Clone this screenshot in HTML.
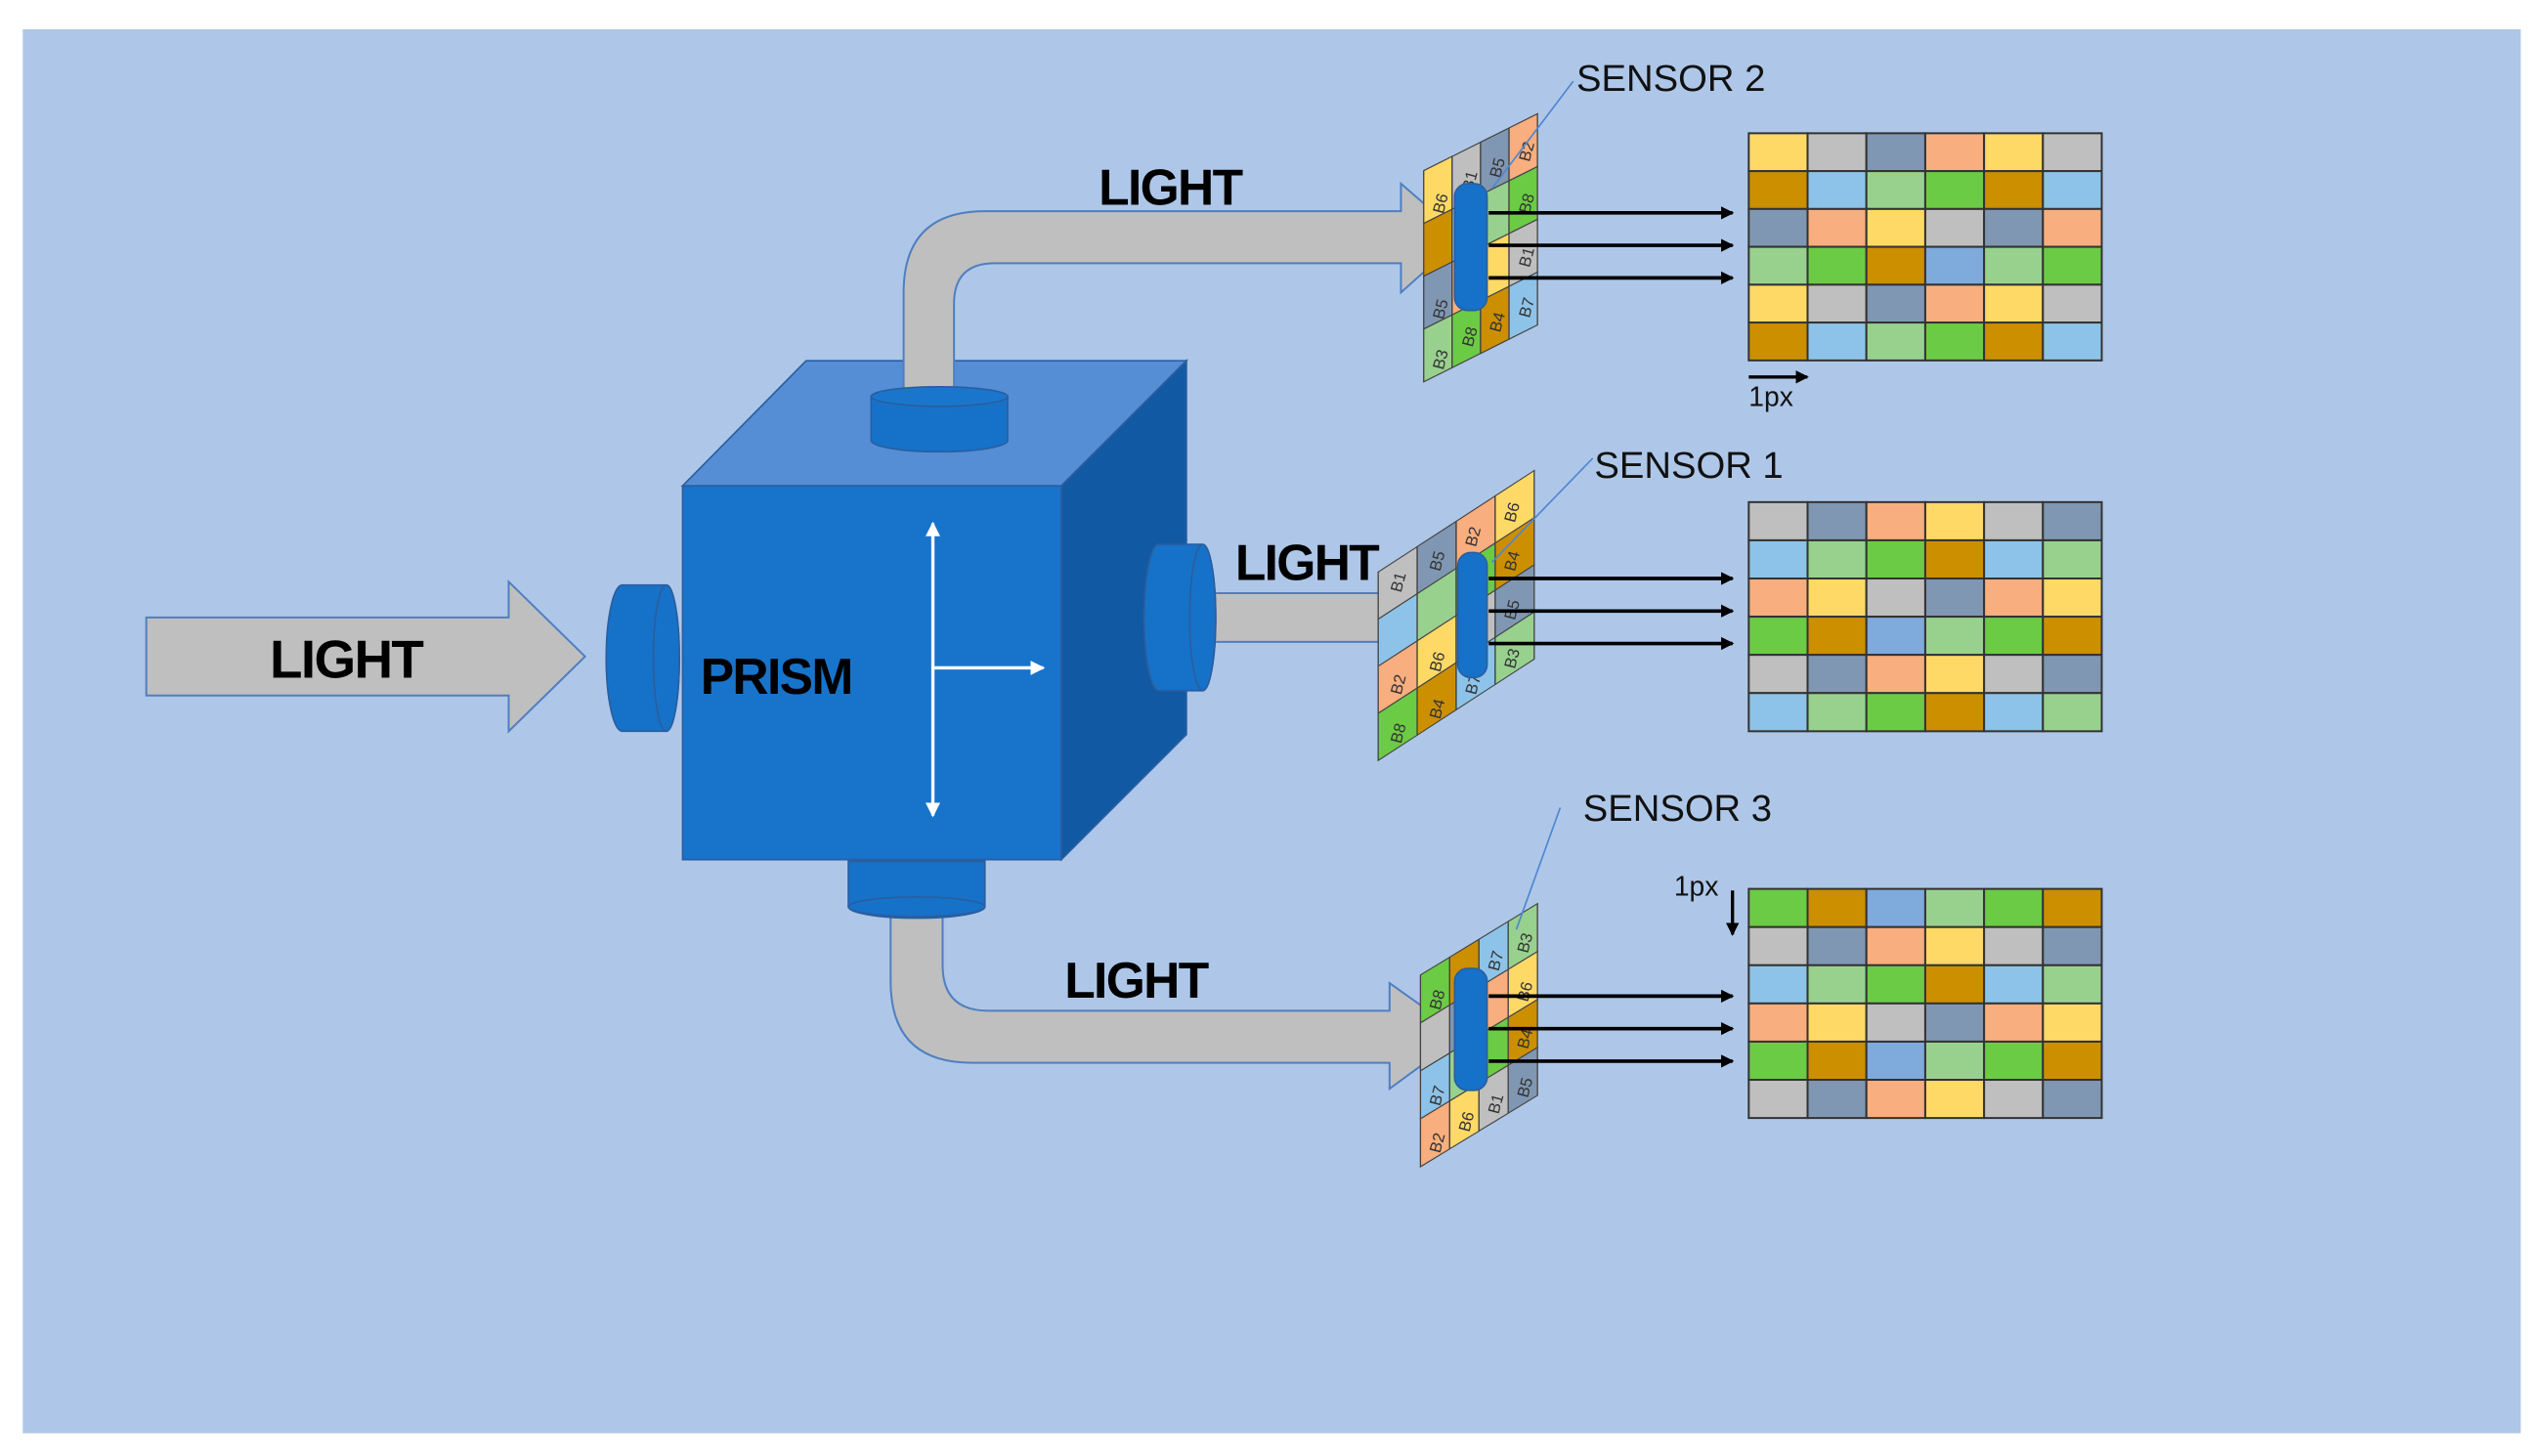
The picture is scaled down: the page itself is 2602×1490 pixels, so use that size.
<!DOCTYPE html>
<html><head><meta charset="utf-8"><style>
html,body{margin:0;padding:0;background:#fff;}
svg{display:block;}
text{font-family:"Liberation Sans",sans-serif;}
.b{font-weight:bold;fill:#000;letter-spacing:-1px;}
.s{font-size:23px;fill:#111;}
.t{font-size:10px;fill:#333;}
</style></head><body>
<svg width="2602" height="1490" viewBox="0 0 1564.7 896" preserveAspectRatio="none" xmlns="http://www.w3.org/2000/svg">
<defs>
<marker id="ah" markerWidth="8" markerHeight="8" refX="7" refY="4" orient="auto" markerUnits="userSpaceOnUse"><path d="M0,0 L8,4 L0,8 Z" fill="#000"/></marker>
<marker id="wh" markerWidth="9" markerHeight="9" refX="8" refY="4.5" orient="auto" markerUnits="userSpaceOnUse"><path d="M0,0 L9,4.5 L0,9 Z" fill="#fff"/></marker>
</defs>
<rect x="14" y="18" width="1537" height="864" fill="#AEC7E8"/>

<!-- input arrow -->
<path d="M90,380 L313,380 L313,358 L360,404 L313,450 L313,428 L90,428 Z" fill="#BFBFBF" stroke="#4F7FC0" stroke-width="1.2"/>
<text x="166" y="417" class="b" font-size="33">LIGHT</text>

<!-- cube -->
<polygon points="420,299 496,222 730,222 653,299" fill="#558ED5" stroke="#2A5EA0" stroke-width="1"/>
<polygon points="653,299 730,222 730,452 653,529" fill="#115AA3" stroke="#2A5EA0" stroke-width="1"/>
<rect x="420" y="299" width="233" height="230" fill="#1874CA" stroke="#2A5EA0" stroke-width="1"/>
<text x="431" y="427" class="b" font-size="31">PRISM</text>
<line x1="574" y1="411" x2="574" y2="322" stroke="#fff" stroke-width="2" marker-end="url(#wh)"/>
<line x1="574" y1="411" x2="574" y2="502" stroke="#fff" stroke-width="2" marker-end="url(#wh)"/>
<line x1="574" y1="411" x2="642" y2="411" stroke="#fff" stroke-width="2" marker-end="url(#wh)"/>

<!-- top curved arrow -->
<path d="M556,245 L556,180 Q556,130 606,130 L862,130 L862,113 L900,146 L862,180 L862,162 L612,162 Q587,162 587,187 L587,245 Z" fill="#BFBFBF" stroke="#4F7FC0" stroke-width="1.2"/>
<text x="676" y="126" class="b" font-size="31">LIGHT</text>

<!-- right arrow -->
<path d="M735,365 L855,365 L855,350 L893,380 L855,412 L855,395 L735,395 Z" fill="#BFBFBF" stroke="#4F7FC0" stroke-width="1.2"/>
<text x="760" y="357" class="b" font-size="31">LIGHT</text>

<!-- bottom curved arrow -->
<path d="M548,552 L548,604 Q548,654 598,654 L855,654 L855,670 L900,637 L855,605 L855,622 L608,622 Q580,622 580,594 L580,552 Z" fill="#BFBFBF" stroke="#4F7FC0" stroke-width="1.2"/>
<text x="655" y="614" class="b" font-size="31">LIGHT</text>

<!-- top lens -->
<path d="M536,244 L536,271 A42,7 0 0 0 620,271 L620,244 Z" fill="#1672C8" stroke="#2A5EA0"/>
<ellipse cx="578" cy="244" rx="42" ry="6" fill="#1A76CC" stroke="#2A5EA0"/>
<!-- bottom lens -->
<path d="M522,530 L522,558 A42,7 0 0 0 606,558 L606,530 Z" fill="#1672C8" stroke="#2A5EA0"/>
<ellipse cx="564" cy="558" rx="42" ry="6" fill="#1672C8" stroke="#2A5EA0"/>
<!-- left lens -->
<path d="M383,360 L410,360 A8,45 0 0 1 410,450 L383,450 A10,45 0 0 1 383,360 Z" fill="#1672C8" stroke="#2A5EA0"/>
<ellipse cx="410" cy="405" rx="8" ry="45" fill="#1672C8" stroke="#2A5EA0"/>
<!-- right lens -->
<path d="M713,335 L740,335 A8,45 0 0 1 740,425 L713,425 A9,45 0 0 1 713,335 Z" fill="#1672C8" stroke="#2A5EA0"/>
<ellipse cx="740" cy="380" rx="8" ry="45" fill="#1672C8" stroke="#2A5EA0"/>

<!-- SENSOR 2 tilted -->
<g transform="matrix(1,-0.5,0,1,876,105)" stroke="#444" stroke-width="0.8">
<rect x="0" y="0" width="17.5" height="32.5" fill="#FFD966"/><rect x="0" y="32.5" width="17.5" height="32.5" fill="#CC8F00"/><rect x="0" y="65" width="17.5" height="32.5" fill="#8097B3"/><rect x="0" y="97.5" width="17.5" height="32.5" fill="#98D18E"/>
<rect x="17.5" y="0" width="17.5" height="32.5" fill="#BFBFBF"/><rect x="17.5" y="32.5" width="17.5" height="32.5" fill="#8DC3E8"/><rect x="17.5" y="65" width="17.5" height="32.5" fill="#F8AE7E"/><rect x="17.5" y="97.5" width="17.5" height="32.5" fill="#6CCB44"/>
<rect x="35" y="0" width="17.5" height="32.5" fill="#8097B3"/><rect x="35" y="32.5" width="17.5" height="32.5" fill="#98D18E"/><rect x="35" y="65" width="17.5" height="32.5" fill="#FFD966"/><rect x="35" y="97.5" width="17.5" height="32.5" fill="#CC8F00"/>
<rect x="52.5" y="0" width="17.5" height="32.5" fill="#F8AE7E"/><rect x="52.5" y="32.5" width="17.5" height="32.5" fill="#6CCB44"/><rect x="52.5" y="65" width="17.5" height="32.5" fill="#BFBFBF"/><rect x="52.5" y="97.5" width="17.5" height="32.5" fill="#8DC3E8"/>
</g>
<g class="t">
<text transform="translate(888,132) rotate(-75)">B6</text><text transform="translate(888,197) rotate(-75)">B5</text><text transform="translate(888,228) rotate(-75)">B3</text>
<text transform="translate(906,118) rotate(-75)">B1</text><text transform="translate(906,214) rotate(-75)">B8</text>
<text transform="translate(923,110) rotate(-75)">B5</text><text transform="translate(923,205) rotate(-75)">B4</text>
<text transform="translate(941,100) rotate(-75)">B2</text><text transform="translate(941,132) rotate(-75)">B8</text><text transform="translate(941,165) rotate(-75)">B1</text><text transform="translate(941,196) rotate(-75)">B7</text>
</g>
<rect x="895" y="113" width="20" height="78" rx="8" fill="#1672C8" stroke="#2A5EA0"/>
<line x1="918" y1="116" x2="968" y2="50" stroke="#4F86D0" stroke-width="1"/>
<text x="970" y="56" class="s">SENSOR 2</text>
<g stroke="#000" stroke-width="2.2">
<line x1="916" y1="131" x2="1066" y2="131" marker-end="url(#ah)"/>
<line x1="916" y1="151" x2="1066" y2="151" marker-end="url(#ah)"/>
<line x1="916" y1="171" x2="1066" y2="171" marker-end="url(#ah)"/>
</g>

<!-- SENSOR 1 tilted -->
<g transform="matrix(1,-0.65,0,1,848,352)" stroke="#444" stroke-width="0.8">
<rect x="0" y="0" width="24" height="29" fill="#BFBFBF"/><rect x="0" y="29" width="24" height="29" fill="#8DC3E8"/><rect x="0" y="58" width="24" height="29" fill="#F8AE7E"/><rect x="0" y="87" width="24" height="29" fill="#6CCB44"/>
<rect x="24" y="0" width="24" height="29" fill="#8097B3"/><rect x="24" y="29" width="24" height="29" fill="#98D18E"/><rect x="24" y="58" width="24" height="29" fill="#FFD966"/><rect x="24" y="87" width="24" height="29" fill="#CC8F00"/>
<rect x="48" y="0" width="24" height="29" fill="#F8AE7E"/><rect x="48" y="29" width="24" height="29" fill="#6CCB44"/><rect x="48" y="58" width="24" height="29" fill="#BFBFBF"/><rect x="48" y="87" width="24" height="29" fill="#8DC3E8"/>
<rect x="72" y="0" width="24" height="29" fill="#FFD966"/><rect x="72" y="29" width="24" height="29" fill="#CC8F00"/><rect x="72" y="58" width="24" height="29" fill="#8097B3"/><rect x="72" y="87" width="24" height="29" fill="#98D18E"/>
</g>
<g class="t">
<text transform="translate(862,365) rotate(-75)">B1</text><text transform="translate(862,428) rotate(-75)">B2</text><text transform="translate(862,458) rotate(-75)">B8</text>
<text transform="translate(886,352) rotate(-75)">B5</text><text transform="translate(886,414) rotate(-75)">B6</text><text transform="translate(886,443) rotate(-75)">B4</text>
<text transform="translate(908,337) rotate(-75)">B2</text><text transform="translate(908,428) rotate(-75)">B7</text>
<text transform="translate(932,322) rotate(-75)">B6</text><text transform="translate(932,352) rotate(-75)">B4</text><text transform="translate(932,382) rotate(-75)">B5</text><text transform="translate(932,412) rotate(-75)">B3</text>
</g>
<rect x="897" y="340" width="18" height="77" rx="8" fill="#1672C8" stroke="#2A5EA0"/>
<line x1="918" y1="346" x2="980" y2="282" stroke="#4F86D0" stroke-width="1"/>
<text x="981" y="294" class="s">SENSOR 1</text>
<g stroke="#000" stroke-width="2.2">
<line x1="916" y1="356" x2="1066" y2="356" marker-end="url(#ah)"/>
<line x1="916" y1="376" x2="1066" y2="376" marker-end="url(#ah)"/>
<line x1="916" y1="396" x2="1066" y2="396" marker-end="url(#ah)"/>
</g>

<!-- SENSOR 3 tilted -->
<g transform="matrix(1,-0.61,0,1,874,600)" stroke="#444" stroke-width="0.8">
<rect x="0" y="0" width="18" height="29.5" fill="#6CCB44"/><rect x="0" y="29.5" width="18" height="29.5" fill="#BFBFBF"/><rect x="0" y="59" width="18" height="29.5" fill="#8DC3E8"/><rect x="0" y="88.5" width="18" height="29.5" fill="#F8AE7E"/>
<rect x="18" y="0" width="18" height="29.5" fill="#CC8F00"/><rect x="18" y="29.5" width="18" height="29.5" fill="#8097B3"/><rect x="18" y="59" width="18" height="29.5" fill="#98D18E"/><rect x="18" y="88.5" width="18" height="29.5" fill="#FFD966"/>
<rect x="36" y="0" width="18" height="29.5" fill="#8DC3E8"/><rect x="36" y="29.5" width="18" height="29.5" fill="#F8AE7E"/><rect x="36" y="59" width="18" height="29.5" fill="#6CCB44"/><rect x="36" y="88.5" width="18" height="29.5" fill="#BFBFBF"/>
<rect x="54" y="0" width="18" height="29.5" fill="#98D18E"/><rect x="54" y="29.5" width="18" height="29.5" fill="#FFD966"/><rect x="54" y="59" width="18" height="29.5" fill="#CC8F00"/><rect x="54" y="88.5" width="18" height="29.5" fill="#8097B3"/>
</g>
<g class="t">
<text transform="translate(886,622) rotate(-75)">B8</text><text transform="translate(886,681) rotate(-75)">B7</text><text transform="translate(886,710) rotate(-75)">B2</text>
<text transform="translate(904,697) rotate(-75)">B6</text>
<text transform="translate(922,598) rotate(-75)">B7</text><text transform="translate(922,686) rotate(-75)">B1</text>
<text transform="translate(940,587) rotate(-75)">B3</text><text transform="translate(940,617) rotate(-75)">B6</text><text transform="translate(940,646) rotate(-75)">B4</text><text transform="translate(940,676) rotate(-75)">B5</text>
</g>
<rect x="895" y="596" width="20" height="75" rx="8" fill="#1672C8" stroke="#2A5EA0"/>
<line x1="933" y1="572" x2="960" y2="497" stroke="#4F86D0" stroke-width="1"/>
<text x="974" y="505" class="s">SENSOR 3</text>
<g stroke="#000" stroke-width="2.2">
<line x1="916" y1="613" x2="1066" y2="613" marker-end="url(#ah)"/>
<line x1="916" y1="633" x2="1066" y2="633" marker-end="url(#ah)"/>
<line x1="916" y1="653" x2="1066" y2="653" marker-end="url(#ah)"/>
</g>

<!-- GRID 2 -->
<g stroke="#333" stroke-width="1.2">
<rect x="1076" y="82" width="36.2" height="23.3" fill="#FFD966"/><rect x="1112.2" y="82" width="36.2" height="23.3" fill="#BFBFBF"/><rect x="1148.4" y="82" width="36.2" height="23.3" fill="#8097B3"/><rect x="1184.6" y="82" width="36.2" height="23.3" fill="#F8AE7E"/><rect x="1220.8" y="82" width="36.2" height="23.3" fill="#FFD966"/><rect x="1257" y="82" width="36.2" height="23.3" fill="#BFBFBF"/>
<rect x="1076" y="105.3" width="36.2" height="23.3" fill="#CC8F00"/><rect x="1112.2" y="105.3" width="36.2" height="23.3" fill="#8DC3E8"/><rect x="1148.4" y="105.3" width="36.2" height="23.3" fill="#98D18E"/><rect x="1184.6" y="105.3" width="36.2" height="23.3" fill="#6CCB44"/><rect x="1220.8" y="105.3" width="36.2" height="23.3" fill="#CC8F00"/><rect x="1257" y="105.3" width="36.2" height="23.3" fill="#8DC3E8"/>
<rect x="1076" y="128.6" width="36.2" height="23.3" fill="#8097B3"/><rect x="1112.2" y="128.6" width="36.2" height="23.3" fill="#F8AE7E"/><rect x="1148.4" y="128.6" width="36.2" height="23.3" fill="#FFD966"/><rect x="1184.6" y="128.6" width="36.2" height="23.3" fill="#BFBFBF"/><rect x="1220.8" y="128.6" width="36.2" height="23.3" fill="#8097B3"/><rect x="1257" y="128.6" width="36.2" height="23.3" fill="#F8AE7E"/>
<rect x="1076" y="151.9" width="36.2" height="23.3" fill="#98D18E"/><rect x="1112.2" y="151.9" width="36.2" height="23.3" fill="#6CCB44"/><rect x="1148.4" y="151.9" width="36.2" height="23.3" fill="#CC8F00"/><rect x="1184.6" y="151.9" width="36.2" height="23.3" fill="#7FAADC"/><rect x="1220.8" y="151.9" width="36.2" height="23.3" fill="#98D18E"/><rect x="1257" y="151.9" width="36.2" height="23.3" fill="#6CCB44"/>
<rect x="1076" y="175.2" width="36.2" height="23.3" fill="#FFD966"/><rect x="1112.2" y="175.2" width="36.2" height="23.3" fill="#BFBFBF"/><rect x="1148.4" y="175.2" width="36.2" height="23.3" fill="#8097B3"/><rect x="1184.6" y="175.2" width="36.2" height="23.3" fill="#F8AE7E"/><rect x="1220.8" y="175.2" width="36.2" height="23.3" fill="#FFD966"/><rect x="1257" y="175.2" width="36.2" height="23.3" fill="#BFBFBF"/>
<rect x="1076" y="198.5" width="36.2" height="23.3" fill="#CC8F00"/><rect x="1112.2" y="198.5" width="36.2" height="23.3" fill="#8DC3E8"/><rect x="1148.4" y="198.5" width="36.2" height="23.3" fill="#98D18E"/><rect x="1184.6" y="198.5" width="36.2" height="23.3" fill="#6CCB44"/><rect x="1220.8" y="198.5" width="36.2" height="23.3" fill="#CC8F00"/><rect x="1257" y="198.5" width="36.2" height="23.3" fill="#8DC3E8"/>
</g>
<line x1="1076" y1="232" x2="1112" y2="232" stroke="#000" stroke-width="2" marker-end="url(#ah)"/>
<text x="1076" y="250" font-size="17" fill="#111">1px</text>

<!-- GRID 1 -->
<g stroke="#333" stroke-width="1.2">
<rect x="1076" y="309" width="36.2" height="23.5" fill="#BFBFBF"/><rect x="1112.2" y="309" width="36.2" height="23.5" fill="#8097B3"/><rect x="1148.4" y="309" width="36.2" height="23.5" fill="#F8AE7E"/><rect x="1184.6" y="309" width="36.2" height="23.5" fill="#FFD966"/><rect x="1220.8" y="309" width="36.2" height="23.5" fill="#BFBFBF"/><rect x="1257" y="309" width="36.2" height="23.5" fill="#8097B3"/>
<rect x="1076" y="332.5" width="36.2" height="23.5" fill="#8DC3E8"/><rect x="1112.2" y="332.5" width="36.2" height="23.5" fill="#98D18E"/><rect x="1148.4" y="332.5" width="36.2" height="23.5" fill="#6CCB44"/><rect x="1184.6" y="332.5" width="36.2" height="23.5" fill="#CC8F00"/><rect x="1220.8" y="332.5" width="36.2" height="23.5" fill="#8DC3E8"/><rect x="1257" y="332.5" width="36.2" height="23.5" fill="#98D18E"/>
<rect x="1076" y="356" width="36.2" height="23.5" fill="#F8AE7E"/><rect x="1112.2" y="356" width="36.2" height="23.5" fill="#FFD966"/><rect x="1148.4" y="356" width="36.2" height="23.5" fill="#BFBFBF"/><rect x="1184.6" y="356" width="36.2" height="23.5" fill="#8097B3"/><rect x="1220.8" y="356" width="36.2" height="23.5" fill="#F8AE7E"/><rect x="1257" y="356" width="36.2" height="23.5" fill="#FFD966"/>
<rect x="1076" y="379.5" width="36.2" height="23.5" fill="#6CCB44"/><rect x="1112.2" y="379.5" width="36.2" height="23.5" fill="#CC8F00"/><rect x="1148.4" y="379.5" width="36.2" height="23.5" fill="#7FAADC"/><rect x="1184.6" y="379.5" width="36.2" height="23.5" fill="#98D18E"/><rect x="1220.8" y="379.5" width="36.2" height="23.5" fill="#6CCB44"/><rect x="1257" y="379.5" width="36.2" height="23.5" fill="#CC8F00"/>
<rect x="1076" y="403" width="36.2" height="23.5" fill="#BFBFBF"/><rect x="1112.2" y="403" width="36.2" height="23.5" fill="#8097B3"/><rect x="1148.4" y="403" width="36.2" height="23.5" fill="#F8AE7E"/><rect x="1184.6" y="403" width="36.2" height="23.5" fill="#FFD966"/><rect x="1220.8" y="403" width="36.2" height="23.5" fill="#BFBFBF"/><rect x="1257" y="403" width="36.2" height="23.5" fill="#8097B3"/>
<rect x="1076" y="426.5" width="36.2" height="23.5" fill="#8DC3E8"/><rect x="1112.2" y="426.5" width="36.2" height="23.5" fill="#98D18E"/><rect x="1148.4" y="426.5" width="36.2" height="23.5" fill="#6CCB44"/><rect x="1184.6" y="426.5" width="36.2" height="23.5" fill="#CC8F00"/><rect x="1220.8" y="426.5" width="36.2" height="23.5" fill="#8DC3E8"/><rect x="1257" y="426.5" width="36.2" height="23.5" fill="#98D18E"/>
</g>

<!-- GRID 3 -->
<g stroke="#333" stroke-width="1.2">
<rect x="1076" y="547" width="36.2" height="23.5" fill="#6CCB44"/><rect x="1112.2" y="547" width="36.2" height="23.5" fill="#CC8F00"/><rect x="1148.4" y="547" width="36.2" height="23.5" fill="#7FAADC"/><rect x="1184.6" y="547" width="36.2" height="23.5" fill="#98D18E"/><rect x="1220.8" y="547" width="36.2" height="23.5" fill="#6CCB44"/><rect x="1257" y="547" width="36.2" height="23.5" fill="#CC8F00"/>
<rect x="1076" y="570.5" width="36.2" height="23.5" fill="#BFBFBF"/><rect x="1112.2" y="570.5" width="36.2" height="23.5" fill="#8097B3"/><rect x="1148.4" y="570.5" width="36.2" height="23.5" fill="#F8AE7E"/><rect x="1184.6" y="570.5" width="36.2" height="23.5" fill="#FFD966"/><rect x="1220.8" y="570.5" width="36.2" height="23.5" fill="#BFBFBF"/><rect x="1257" y="570.5" width="36.2" height="23.5" fill="#8097B3"/>
<rect x="1076" y="594" width="36.2" height="23.5" fill="#8DC3E8"/><rect x="1112.2" y="594" width="36.2" height="23.5" fill="#98D18E"/><rect x="1148.4" y="594" width="36.2" height="23.5" fill="#6CCB44"/><rect x="1184.6" y="594" width="36.2" height="23.5" fill="#CC8F00"/><rect x="1220.8" y="594" width="36.2" height="23.5" fill="#8DC3E8"/><rect x="1257" y="594" width="36.2" height="23.5" fill="#98D18E"/>
<rect x="1076" y="617.5" width="36.2" height="23.5" fill="#F8AE7E"/><rect x="1112.2" y="617.5" width="36.2" height="23.5" fill="#FFD966"/><rect x="1148.4" y="617.5" width="36.2" height="23.5" fill="#BFBFBF"/><rect x="1184.6" y="617.5" width="36.2" height="23.5" fill="#8097B3"/><rect x="1220.8" y="617.5" width="36.2" height="23.5" fill="#F8AE7E"/><rect x="1257" y="617.5" width="36.2" height="23.5" fill="#FFD966"/>
<rect x="1076" y="641" width="36.2" height="23.5" fill="#6CCB44"/><rect x="1112.2" y="641" width="36.2" height="23.5" fill="#CC8F00"/><rect x="1148.4" y="641" width="36.2" height="23.5" fill="#7FAADC"/><rect x="1184.6" y="641" width="36.2" height="23.5" fill="#98D18E"/><rect x="1220.8" y="641" width="36.2" height="23.5" fill="#6CCB44"/><rect x="1257" y="641" width="36.2" height="23.5" fill="#CC8F00"/>
<rect x="1076" y="664.5" width="36.2" height="23.5" fill="#BFBFBF"/><rect x="1112.2" y="664.5" width="36.2" height="23.5" fill="#8097B3"/><rect x="1148.4" y="664.5" width="36.2" height="23.5" fill="#F8AE7E"/><rect x="1184.6" y="664.5" width="36.2" height="23.5" fill="#FFD966"/><rect x="1220.8" y="664.5" width="36.2" height="23.5" fill="#BFBFBF"/><rect x="1257" y="664.5" width="36.2" height="23.5" fill="#8097B3"/>
</g>
<text x="1030" y="551" font-size="17" fill="#111">1px</text>
<line x1="1066" y1="548" x2="1066" y2="575" stroke="#000" stroke-width="2" marker-end="url(#ah)"/>
</svg>
</body></html>
